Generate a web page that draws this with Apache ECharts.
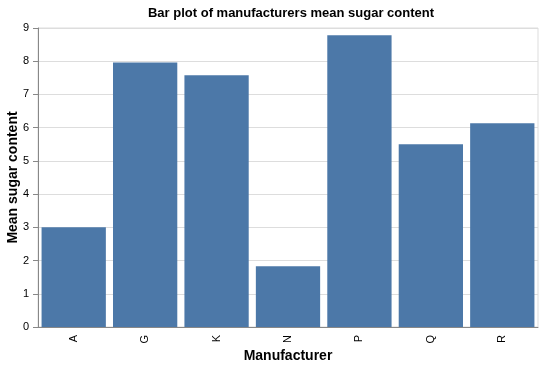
<!DOCTYPE html>
<html><head><meta charset="utf-8">
<script src="https://cdn.jsdelivr.net/npm/echarts@6/dist/echarts.min.js"></script>
<style>html,body{margin:0;padding:0;background:#fff}#c{width:542px;height:368px}</style>
</head><body><div id="c"></div>
<script>
const categories = ['A','G','K','N','P','Q','R'];
const meanSugar = [3.0, 7.96, 7.58, 1.83, 8.78, 5.5, 6.13];
const yTicks = [0,1,2,3,4,5,6,7,8,9];

const FONT = '"Liberation Sans", Arial, sans-serif';
const chart = echarts.init(document.getElementById('c'), null, {renderer:'canvas'});
chart.setOption({
  animation:false,
  title:{text:'Bar plot of manufacturers mean sugar content', left:286, top:2, textAlign:'center',
    textStyle:{fontFamily:FONT,fontSize:13,fontWeight:'bold',color:'#000'}},
  grid:{left:38,right:4,top:28,bottom:41,show:true,borderColor:'#ddd',borderWidth:1,containLabel:false,outerBoundsMode:'none'},
  xAxis:{type:'category',data:categories,
    name:'Manufacturer',nameLocation:'middle',nameGap:22,nameMoveOverlap:false,
    nameTextStyle:{fontFamily:FONT,fontSize:14,fontWeight:'bold',color:'#000'},
    axisLine:{lineStyle:{color:'#888'}},
    axisTick:{alignWithLabel:true,length:5,lineStyle:{color:'#888'}},
    axisLabel:{rotate:90,fontFamily:FONT,fontSize:11,color:'#000',margin:8}},
  yAxis:{type:'value',min:yTicks[0],max:yTicks[yTicks.length-1],interval:1,
    name:'Mean sugar content',nameLocation:'middle',nameGap:18,nameMoveOverlap:false,
    nameTextStyle:{fontFamily:FONT,fontSize:14,fontWeight:'bold',color:'#000'},
    axisLine:{show:true,lineStyle:{color:'#888'}},
    axisTick:{show:true,length:5,lineStyle:{color:'#888'}},
    axisLabel:{fontFamily:FONT,fontSize:11,color:'#000',margin:9},
    splitLine:{lineStyle:{color:'#ddd'}}},
  series:[{type:'bar',data:meanSugar,barCategoryGap:'10%',
    itemStyle:{color:'#4c78a8'}}]
});
</script></body></html>
